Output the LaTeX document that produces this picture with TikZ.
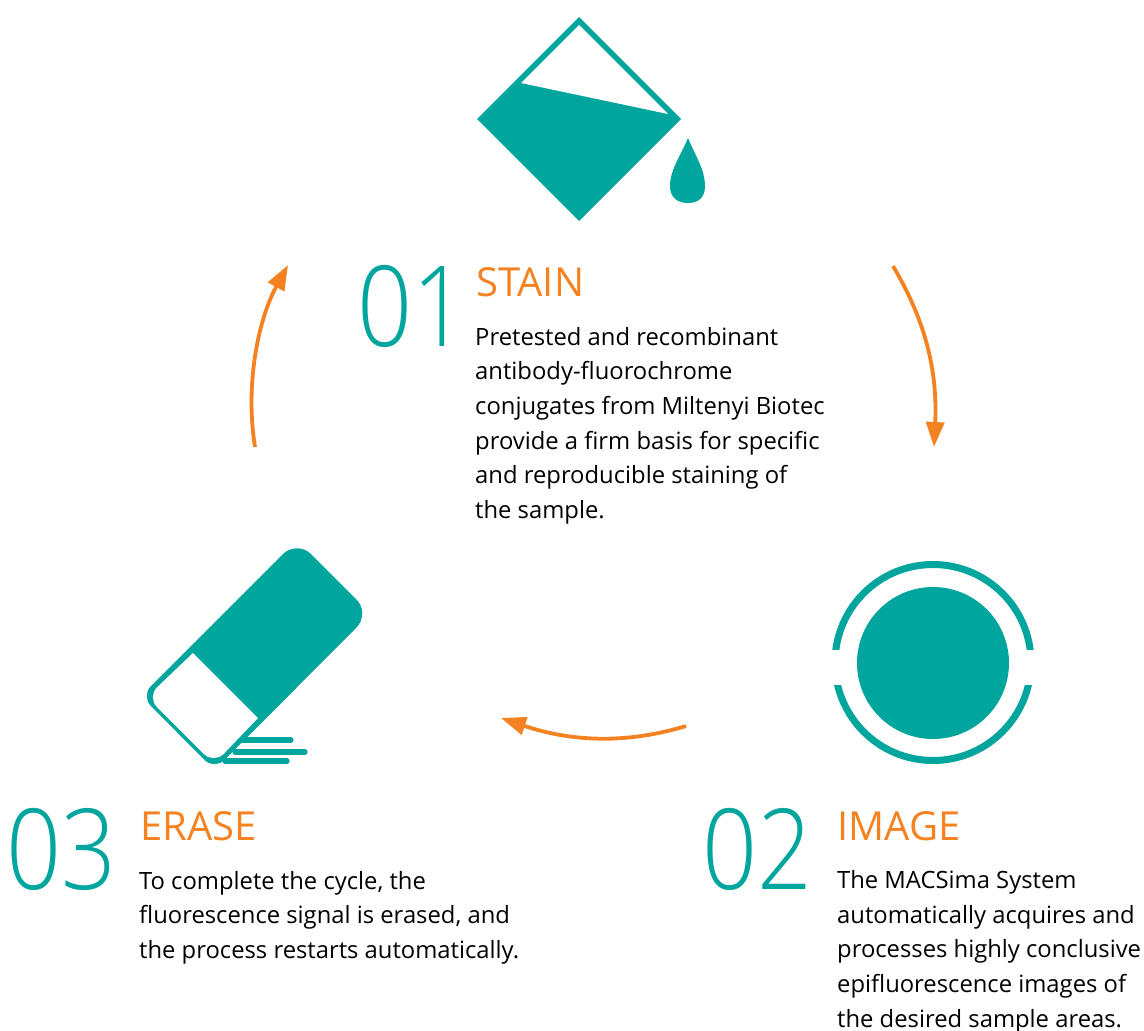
\documentclass[tikz,border=0pt]{standalone}
\usepackage{fontspec}
\usetikzlibrary{arrows.meta}
\setmainfont{Open Sans}
\newfontfamily\thinfont[FakeStretch=0.86]{Open Sans Light}
\definecolor{teal1}{HTML}{00A59D}
\definecolor{orange1}{HTML}{F58220}
\tikzset{
  bodytext/.style={anchor=north west,align=left,inner sep=0pt,font=\fontsize{23.8}{34.6}\selectfont,text=black},
  numtext/.style={anchor=base west,inner sep=0pt,text=teal1,font=\thinfont\fontsize{112}{112}\selectfont},
  headtext/.style={anchor=base west,inner sep=0pt,text=orange1,font=\fontsize{40}{40}\selectfont},
  cyclearrow/.style={draw=orange1,line width=3.8pt,-{Triangle[length=25pt,width=18pt]}},
  sweep/.style={draw=teal1,line width=5.3pt,line cap=round}
}
\begin{document}
\begin{tikzpicture}[x=1pt,y=-1pt]
\useasboundingbox (0,0) rectangle (1144,1031);
% bucket
\fill[teal1] (579,17) -- (681,119) -- (579,221) -- (477,119) -- cycle;
\fill[white] (579,25) -- (668,114) -- (521,83) -- cycle;
\fill[teal1] (688,138) .. controls (680,157) and (670,170) .. (670,186) .. controls (670,198) and (678,203) .. (688,203) .. controls (698,203) and (705,198) .. (705,186) .. controls (705,170) and (696,157) .. (688,138) -- cycle;
% circle
\fill[teal1,even odd rule] (933,662.5) circle (101.5) (933,662.5) circle (94.5);
\fill[white] (825,649.5) rectangle (1040,684.5);
\fill[teal1] (933,663) circle (76);
% eraser
\draw[sweep] (243,740) -- (291,740);
\draw[sweep] (235,752) -- (305,752);
\draw[sweep] (225,761) -- (287,761);
\fill[teal1] (219,618) [rounded corners=20pt] -- (297,540) -- (370.5,613.5) [rounded corners=14pt] -- (214.5,770) -- (141,696) [sharp corners] -- cycle;
\fill[white] (193,653) -- (258,718) [rounded corners=14pt] -- (214,764) -- (147,697) [sharp corners] -- cycle;
% arrows
\coordinate (a1s) at (893,266); \coordinate (a1e) at (934,447);
\coordinate (a2s) at (686,726); \coordinate (a2e) at (501,718);
\coordinate (a3s) at (255,447); \coordinate (a3e) at (288,265);
\draw[cyclearrow] (a1s) .. controls (922,315) and (938,365) .. (a1e);
\draw[cyclearrow] (a2s) .. controls (630,743) and (575,743) .. (a2e);
\draw[cyclearrow] (a3s) .. controls (245,385) and (258,320) .. (a3e);
% text
\node[numtext] (n1) at (357,346) {01};
\node[headtext] (h1) at (476,296) {STAIN};
\node[bodytext] (t1) at (475,327) {Pretested and recombinant\\antibody-fluorochrome\\conjugates from Miltenyi Biotec\\provide a firm basis for specific\\and reproducible staining of\\the sample.};
\node[numtext] (n2) at (702,889) {02};
\node[headtext] (h2) at (837,840) {IMAGE};
\node[bodytext] (t2) at (837,870.5) {The MACSima System\\automatically acquires and\\processes highly conclusive\\epifluorescence images of\\the desired sample areas.};
\node[numtext] (n3) at (6,889) {03};
\node[headtext] (h3) at (140,840) {ERASE};
\node[bodytext] (t3) at (139,871) {To complete the cycle, the\\fluorescence signal is erased, and\\the process restarts automatically.};
\end{tikzpicture}
\end{document}
